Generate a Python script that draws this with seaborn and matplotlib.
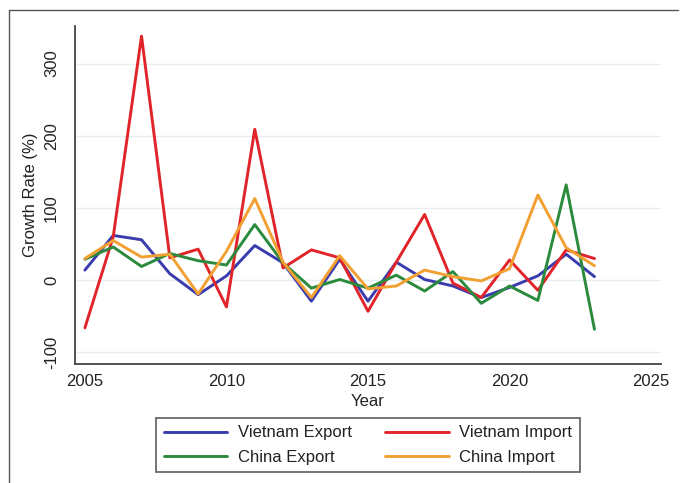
import numpy as np
import pandas as pd
import matplotlib
matplotlib.use("Agg")
import matplotlib.pyplot as plt
from matplotlib.lines import Line2D
import seaborn as sns

# Annual growth rates of bilateral trade (%)
years = list(range(2005, 2024))
vietnam_export = [14, 62, 56, 9, -20, 6, 48, 24, -29, 29, -29, 25, 1, -8, -24, -10, 6, 36, 5]
vietnam_import = [-66, 60, 338, 31, 43, -37, 209, 17, 42, 31, -43, 25, 91, -4, -24, 28, -14, 42, 30]
china_export = [29, 46, 19, 37, 27, 21, 77, 24, -11, 1, -11, 7, -15, 12, -32, -8, -28, 132, -68]
china_import = [30, 55, 32, 36, -19, 40, 113, 25, -24, 34, -12, -8, 14, 5, -1, 16, 118, 45, 20]

series_names = ["Vietnam Export", "Vietnam Import", "China Export", "China Import"]
series_values = [vietnam_export, vietnam_import, china_export, china_import]
series_colors = ["#3a3cae", "#e0242a", "#2b8a3c", "#f3a033"]

y_ticks = [-100, 0, 100, 200, 300]
x_ticks = [2005, 2010, 2015, 2020, 2025]

df = pd.DataFrame({
    "Year": np.tile(years, len(series_names)),
    "Growth": np.concatenate(series_values),
    "Series": np.repeat(series_names, len(years)),
})

sns.set_theme(style="white")
plt.rcParams["font.family"] = ["Liberation Sans", "DejaVu Sans"]

fig = plt.figure(figsize=(6.83, 4.83), dpi=100)
ax = fig.add_axes([0.1098, 0.2464, 0.8580, 0.6998])

palette = dict(zip(series_names, series_colors))
sns.lineplot(data=df, x="Year", y="Growth", hue="Series", hue_order=series_names,
             palette=palette, linewidth=2.1, ax=ax, legend=False)

ax.set_xlim(2004.65, 2025.35)
ax.set_ylim(-116, 352)
ax.set_xticks(x_ticks)
ax.set_yticks(y_ticks)
ax.set_yticklabels([str(v) for v in y_ticks], rotation=90, va="center")

ax.grid(axis="y", color="#e6eef0", linewidth=1.0)
ax.grid(axis="x", visible=False)
for side in ["top", "right"]:
    ax.spines[side].set_visible(False)
for side in ["left", "bottom"]:
    ax.spines[side].set_color("#444444")
    ax.spines[side].set_linewidth(1.3)

ax.tick_params(axis="both", direction="out", length=4.5, width=1.0,
               color="#444444", labelsize=12, labelcolor="#222222")
ax.tick_params(axis="x", pad=3)
ax.tick_params(axis="y", pad=7)
ax.set_xlabel("Year", fontsize=12, color="#222222", labelpad=3)
ax.set_ylabel("Growth Rate (%)", fontsize=12, color="#222222", labelpad=4)

# Legend: two columns, filled row by row
order = ["Vietnam Export", "China Export", "Vietnam Import", "China Import"]
handles = [Line2D([0], [0], color=palette[n], linewidth=2.1) for n in order]
leg = fig.legend(handles, order, loc="upper center", bbox_to_anchor=(0.539, 0.1346),
                 ncol=2, fontsize=12, frameon=True, fancybox=False,
                 handlelength=3.8, handletextpad=0.65, columnspacing=2.0,
                 labelspacing=0.55, borderpad=0.45, borderaxespad=0.0)
leg.get_frame().set_edgecolor("#333333")
leg.get_frame().set_linewidth(1.2)
for t in leg.get_texts():
    t.set_color("#222222")

# Outer frame lines (left and top)
fig.add_artist(Line2D([9 / 683, 9 / 683], [1 - 10 / 483, 0], transform=fig.transFigure,
                      color="#555555", linewidth=1.0))
fig.add_artist(Line2D([9 / 683, 678 / 683], [1 - 10 / 483, 1 - 10 / 483],
                      transform=fig.transFigure, color="#555555", linewidth=1.0))

fig.savefig("out.png", dpi=100, facecolor="white")
